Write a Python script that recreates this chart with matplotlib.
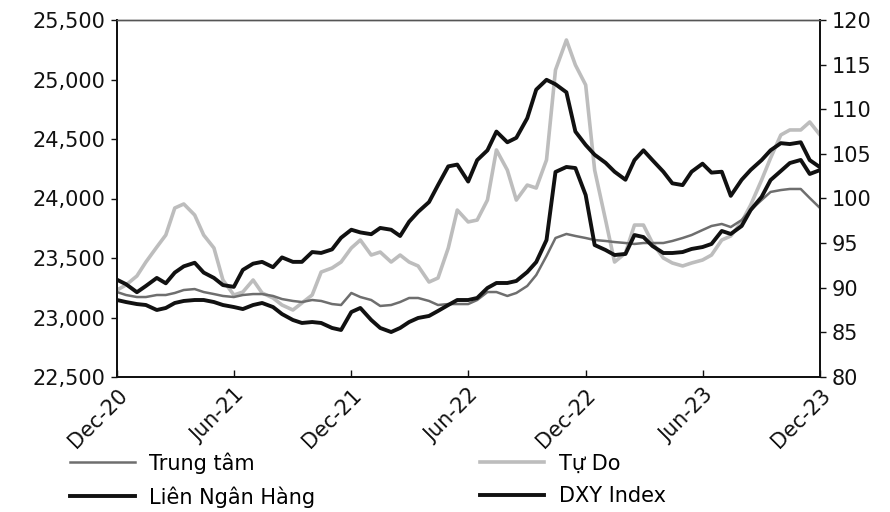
import matplotlib
matplotlib.use("Agg")
import matplotlib.pyplot as plt
import matplotlib.dates as mdates
from matplotlib.ticker import FuncFormatter, FixedLocator
from matplotlib.lines import Line2D
import pandas as pd

plt.rcParams['font.family'] = ['DejaVu Sans']

# semi-monthly observation dates, Dec-2020 .. Dec-2023
dates = pd.date_range('2020-12-01', '2023-12-01', freq='SMS')

trung_tam = [23214, 23189, 23172, 23172, 23189, 23189, 23206, 23231, 23239, 23214,
             23197, 23181, 23172, 23189, 23197, 23197, 23181, 23155, 23139, 23130,
             23147, 23139, 23113, 23105, 23206, 23172, 23147, 23097, 23105, 23130,
             23164, 23164, 23139, 23105, 23113, 23113, 23113, 23147, 23214, 23214,
             23181, 23206, 23265, 23357, 23517, 23668, 23702, 23685, 23668, 23651,
             23643, 23634, 23626, 23618, 23626, 23626, 23626, 23643, 23668, 23693,
             23735, 23769, 23786, 23760, 23819, 23903, 23987, 24055, 24071, 24080,
             24080, 24004, 23920]

tu_do = [23231, 23273, 23349, 23466, 23592, 23693, 23920, 23954, 23861, 23693,
         23584, 23315, 23189, 23214, 23315, 23206, 23164, 23105, 23063, 23122,
         23189, 23382, 23416, 23466, 23584, 23651, 23525, 23550, 23466, 23525,
         23466, 23433, 23298, 23332, 23584, 23903, 23803, 23819, 23987, 24408,
         24239, 23987, 24113, 24088, 24324, 25080, 25332, 25122, 24954, 24239,
         23819, 23466, 23542, 23777, 23777, 23626, 23500, 23458, 23433, 23458,
         23483, 23525, 23651, 23685, 23803, 23945, 24155, 24340, 24534, 24576,
         24576, 24643, 24534]

lien_ngan_hang = [23147, 23130, 23113, 23105, 23063, 23080, 23122, 23139, 23147, 23147,
                  23130, 23105, 23088, 23071, 23105, 23122, 23088, 23029, 22979, 22954,
                  22962, 22954, 22912, 22895, 23046, 23080, 22979, 22912, 22878, 22912,
                  22962, 22996, 23013, 23055, 23105, 23147, 23147, 23164, 23248, 23290,
                  23290, 23307, 23382, 23466, 23651, 24223, 24265, 24256, 24029, 23609,
                  23567, 23525, 23534, 23693, 23676, 23601, 23542, 23542, 23550, 23576,
                  23592, 23618, 23727, 23702, 23769, 23903, 24013, 24155, 24231, 24298,
                  24324, 24206, 24239]

dxy = [90.9, 90.4, 89.5, 90.2, 91.1, 90.5, 91.7, 92.4, 92.8, 91.7,
       91.1, 90.3, 90.1, 92.0, 92.7, 92.9, 92.3, 93.4, 92.9, 92.9,
       94.0, 93.9, 94.3, 95.6, 96.5, 96.2, 96.0, 96.7, 96.5, 95.8,
       97.4, 98.5, 99.6, 101.5, 103.6, 103.8, 101.9, 104.3, 105.4, 107.5,
       106.3, 106.8, 109.0, 112.2, 113.3, 112.8, 111.9, 107.5, 106.0, 104.9,
       104.0, 103.0, 102.1, 104.3, 105.4, 104.3, 103.0, 101.7, 101.5, 103.0,
       103.9, 102.9, 103.0, 100.3, 102.1, 103.2, 104.3, 105.4, 106.2, 106.1,
       106.3, 104.3, 103.5]

left_ticks = [22500, 23000, 23500, 24000, 24500, 25000, 25500]
right_ticks = [80, 85, 90, 95, 100, 105, 110, 115, 120]
x_ticks = ['2020-12-01', '2021-06-01', '2021-12-01', '2022-06-01',
           '2022-12-01', '2023-06-01', '2023-12-01']

names = ['Trung tâm', 'Tự Do', 'Liên Ngân Hàng', 'DXY Index']
colors = ['#6e6e6e', '#bdbdbd', '#111111', '#111111']

FS = 15

fig = plt.figure(figsize=(8.9, 5.12), dpi=100)
ax = fig.add_axes([117/890, 1-377/512, (820-117)/890, (377-20)/512])
ax2 = ax.twinx()

ax.plot(dates, tu_do, color=colors[1], lw=2.6, zorder=2)
ax.plot(dates, trung_tam, color=colors[0], lw=1.8, zorder=3)
ax.plot(dates, lien_ngan_hang, color=colors[2], lw=2.8, zorder=4)
ax2.plot(dates, dxy, color=colors[3], lw=2.8, zorder=5)

ax.set_ylim(22500, 25500)
ax2.set_ylim(80, 120)
ax.set_xlim(pd.Timestamp(x_ticks[0]), pd.Timestamp(x_ticks[-1]))

ax.yaxis.set_major_locator(FixedLocator(left_ticks))
ax.yaxis.set_major_formatter(FuncFormatter(lambda v, p: f'{int(v):,}'))
ax2.yaxis.set_major_locator(FixedLocator(right_ticks))

ax.set_xticks([mdates.date2num(pd.Timestamp(d)) for d in x_ticks])
ax.xaxis.set_major_formatter(mdates.DateFormatter('%b-%y'))
for lbl in ax.get_xticklabels():
    lbl.set_rotation(45)
    lbl.set_ha('right')
    lbl.set_rotation_mode('anchor')

ax.tick_params(axis='y', direction='out', length=4.5, width=1, labelsize=FS, pad=4, colors='#111111')
ax2.tick_params(axis='y', direction='out', length=4.5, width=1, labelsize=FS, pad=4, colors='#111111')
ax.tick_params(axis='x', direction='in', length=5, width=1, labelsize=FS, pad=6, colors='#111111')

for a in (ax, ax2):
    for s in ['left', 'right', 'bottom']:
        a.spines[s].set_color('#111111')
        a.spines[s].set_linewidth(1.3)
    a.spines['top'].set_color('#555555')
    a.spines['top'].set_linewidth(1.0)

handles = [Line2D([], [], color=colors[0], lw=1.8),
           Line2D([], [], color=colors[2], lw=2.8),
           Line2D([], [], color=colors[1], lw=2.6),
           Line2D([], [], color=colors[3], lw=2.8)]
labels = [names[0], names[2], names[1], names[3]]
fig.legend(handles, labels, loc='center left', bbox_to_anchor=(70/890, 1-480/512),
           ncol=2, frameon=False, fontsize=FS, handlelength=3.1, handletextpad=0.7,
           columnspacing=7.9, labelspacing=0.6, borderpad=0, borderaxespad=0)

fig.savefig('out.png', dpi=100)
